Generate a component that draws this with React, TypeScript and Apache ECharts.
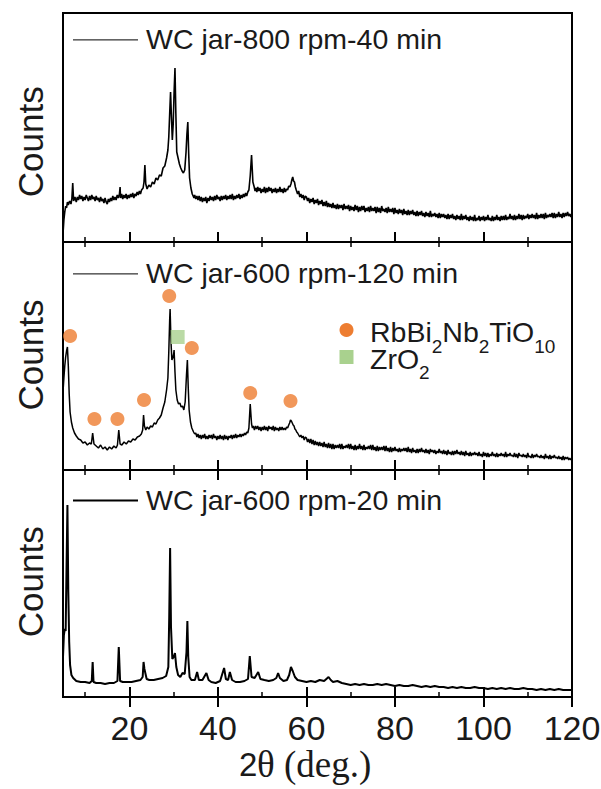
import React, { useEffect, useRef } from 'react';
import * as echarts from 'echarts';

const SANS = '"Liberation Sans", Arial, Helvetica, sans-serif';
const SERIF = '"Liberation Serif", "Times New Roman", serif';
const INK = '#1a1a1a';

// ---- axis / labels ----
const X_MIN = 5;
const X_MAX = 120;
const X_MAJOR_TICKS = [20, 40, 60, 80, 100, 120];
const X_MINOR_TICKS = [10, 30, 50, 70, 90, 110];
const PANEL_Y_MAX = [229, 228, 227];
const Y_TITLE = 'Counts';
const X_TITLE_A = '2';
const X_TITLE_B = 'θ (deg.)';
const SERIES_NAMES = ['WC jar-800 rpm-40 min', 'WC jar-600 rpm-120 min', 'WC jar-600 rpm-20 min'];
const PHASE_RBBI: [string, boolean][] = [['RbBi', false], ['2', true], ['Nb', false], ['2', true], ['TiO', false], ['10', true]];
const PHASE_ZRO2: [string, boolean][] = [['ZrO', false], ['2', true]];

// ---- data: [2theta, counts (a.u.)] ----
const TOP_800_40: number[][] = [
  [5.0,8],[5.2,22],[5.4,30],[5.6,36],[5.8,34],[6.0,40],[6.2,37],[6.5,41],[6.8,38],[7.0,43],[7.2,59],[7.4,41],[7.7,45],
  [8.0,40],[8.25,45],[8.5,42],[8.75,47],[9,43],[9.25,46],[9.5,41],[9.75,45],[10,42],[10.25,47],[10.5,44],[10.75,41],[11,46],[11.25,42],[11.5,47],[11.75,43],[12,45],[12.25,41],[12.5,46],[12.75,42],[13,44],[13.25,40],[13.5,45],[13.75,41],[14,43],[14.25,39],[14.5,44],[14.75,40],[15,38],[15.25,43],[15.5,40],[15.75,44],[16,41],[16.25,46],[16.5,42],[16.75,45],[17,42],[17.25,47],[17.5,44],[17.75,48],[17.9,55],[18.0,44],[18.25,48],[18.5,43],[18.75,47],[19,44],[19.25,48],[19.5,43],[19.75,47],[20,44],[20.25,48],[20.5,45],[20.75,49],[21,44],[21.25,48],[21.5,46],[21.75,50],[22,47],[22.25,51],[22.5,48],[22.75,52],
  [23.1,54],[23.3,60],[23.5,77],[23.7,58],[24.0,53],[24.4,57],[24.8,55],[25.2,60],[25.6,58],[26.0,64],[26.4,62],[26.8,67],[27.2,66],[27.6,74],[28.0,76],[28.4,84],[28.7,92],[28.9,105],[29.1,128],[29.3,150],[29.5,125],[29.7,102],[29.9,118],[30.1,150],[30.3,174],[30.5,128],[30.7,90],[31.0,84],[31.3,78],[31.6,74],[31.9,71],[32.2,69],[32.5,72],[32.8,90],[33.0,108],[33.2,120],[33.4,88],[33.6,64],[33.9,54],[34.2,48],[34.6,44],
  [34.75,47],[35,43],[35.25,46],[35.5,42],[35.75,46],[36,41],[36.25,45],[36.5,40],[36.75,44],[37,41],[37.25,45],[37.5,39],[37.75,44],[38,41],[38.25,46],[38.5,42],[38.75,45],[39,41],[39.25,46],[39.5,42],[39.75,47],[40,43],[40.25,45],[40.5,41],[40.75,46],[41,42],[41.25,46],[41.5,43],[41.75,47],[42,42],[42.25,46],[42.5,43],[42.75,47],[43,43],[43.25,48],[43.5,42],[43.75,46],[44,43],[44.25,47],[44.5,44],[44.75,48],[45,43],[45.25,47],[45.5,44],[45.75,48],[46,45],[46.25,49],[46.5,46],[46.75,50],
  [47.0,52],[47.3,66],[47.6,87],[47.9,60],[48.2,55],[48.4,51],[48.6,54],[48.8,50],[49,55],[49.25,51],[49.5,54],[49.75,49],[50,53],[50.25,50],[50.5,55],[50.75,49],[51,54],[51.25,50],[51.5,55],[51.75,51],[52,54],[52.25,49],[52.5,53],[52.75,50],[53,54],[53.25,49],[53.5,53],[53.75,50],[54,55],[54.25,50],[54.5,53],[54.75,49],[55,54],[55.25,50],[55.5,53],[55.75,52],[56,56],[56.25,55],[56.5,58],[56.7,62],[56.9,65],[57.1,61],[57.3,60],[57.5,55],[57.7,52],[58,48],[58.25,51],[58.5,45],[58.75,48],[59,44],[59.25,47],[59.5,42],[59.75,46],
  [60,45],[60.25,41],[60.5,44],[60.75,39],[61,43],[61.25,40],[61.5,44],[61.75,38],[62,42],[62.25,39],[62.5,43],[62.75,37],[63,41],[63.25,38],[63.5,42],[63.75,36],[64,40],[64.25,36],[64.5,41],[64.75,35],[65,39],[65.25,35],[65.5,38],[65.75,34],[66,39],[66.25,34],[66.5,37],[66.75,33],[67,38],[67.25,33],[67.5,37],[67.75,34],[68,37],[68.25,32],[68.5,38],[68.75,33],[69,36],[69.25,33],[69.5,37],[69.75,31],[70,36],[70.25,32],[70.5,35],[70.75,31],[71,37],[71.25,32],[71.5,36],[71.75,30],[72,35],[72.25,31],[72.5,36],[72.75,32],[73,36],[73.25,30],[73.5,34],[73.75,31],[74,35],[74.25,30],[74.5,36],[74.75,31],[75,34],[75.25,31],[75.5,35],[75.75,29],[76,35],[76.25,30],[76.5,34],[76.75,29],[77,36],[77.25,31],[77.5,33],[77.75,30],[78,34],[78.25,29],[78.5,35],[78.75,30],[79,33],[79.25,30],[79.5,34],[79.75,28],[80,34],[80.25,29],[80.5,32],[80.75,28],[81,33],[81.25,29],[81.5,32],[81.75,27],[82,33],[82.25,28],[82.5,31],[82.75,27],[83,32],[83.25,27],[83.5,31],[83.75,28],[84,32],[84.25,27],[84.5,30],[84.75,26],[85,31],[85.25,26],[85.5,30],[85.75,27],[86,31],[86.25,26],[86.5,29],[86.75,25],[87,30],[87.25,26],[87.5,29],[87.75,25],[88,31],[88.25,25],[88.5,28],[88.75,26],[89,29],[89.25,25],[89.5,28],[89.75,24],[90,29],[90.25,24],[90.5,28],[90.75,25],[91,28],[91.25,24],[91.5,27],[91.75,23],[92,28],[92.25,23],[92.5,27],[92.75,24],[93,28],[93.25,23],[93.5,26],[93.75,22],[94,27],[94.25,23],[94.5,26],[94.75,22],[95,28],[95.25,22],[95.5,26],[95.75,23],[96,27],[96.25,22],[96.5,25],[96.75,21],[97,26],[97.25,22],[97.5,25],[97.75,21],[98,27],[98.25,21],[98.5,24],[98.75,22],[99,26],[99.25,21],[99.5,25],[99.75,22],[100,26],[100.25,21],[100.5,25],[100.75,22],[101,27],[101.25,22],[101.5,24],[101.75,21],[102,26],[102.25,21],[102.5,25],[102.75,22],[103,27],[103.25,22],[103.5,25],[103.75,21],[104,26],[104.25,22],[104.5,26],[104.75,22],[105,27],[105.25,22],[105.5,25],[105.75,23],[106,28],[106.25,23],[106.5,26],[106.75,22],[107,27],[107.25,22],[107.5,26],[107.75,23],[108,28],[108.25,23],[108.5,27],[108.75,22],[109,27],[109.25,23],[109.5,26],[109.75,24],[110,28],[110.25,23],[110.5,27],[110.75,24],[111,28],[111.25,24],[111.5,27],[111.75,23],[112,29],[112.25,23],[112.5,27],[112.75,24],[113,28],[113.25,24],[113.5,28],[113.75,23],[114,29],[114.25,24],[114.5,27],[114.75,25],[115,28],[115.25,25],[115.5,29],[115.75,24],[116,29],[116.25,24],[116.5,28],[116.75,25],[117,30],[117.25,25],[117.5,28],[117.75,24],[118,29],[118.25,25],[118.5,29],[118.75,26],[119,30],[119.25,26],[119.5,28],[119.75,25],[120,29]
];

const MID_600_120: number[][] = [
  [5.0,78],[5.2,92],[5.4,104],[5.6,113],[5.8,119],[6.0,123],[6.2,104],[6.4,76],[6.6,58],[6.9,48],[7.2,42],[7.6,37],[8.0,34],[8.5,31],[9.0,30],[9.5,27],[10.0,28],[10.5,25],[11.0,27],[11.4,26],[11.7,37],[12.0,26],[12.5,24],[13.0,22],[13.5,25],[14.0,21],[14.5,23],[15.0,20],[15.5,23],[16.0,21],[16.5,24],[17.0,22],[17.3,25],[17.6,40],[17.9,26],[18.3,25],[18.8,28],[19.3,26],[19.8,29],[20.3,28],[20.8,31],[21.3,30],[21.8,33],[22.3,34],[22.7,36],[23.0,40],[23.2,55],[23.4,44],[23.7,40],[24.0,43],[24.4,41],[24.8,44],[25.2,43],[25.6,47],[26.0,46],[26.4,50],[26.8,52],[27.2,55],[27.6,62],[28.0,68],[28.4,80],[28.7,92],[28.9,118],[29.1,150],[29.2,161],[29.4,128],[29.6,110],[29.8,112],[30.0,116],[30.1,120],[30.3,98],[30.5,80],[30.8,70],[31.1,66],[31.4,67],[31.7,63],[32.0,64],[32.3,60],[32.6,68],[32.9,95],[33.1,110],[33.3,82],[33.5,60],[33.8,48],[34.1,42],
  [34.5,38],[34.75,36],[35,37],[35.25,33],[35.5,36],[35.75,32],[36,35],[36.25,31],[36.5,35],[36.75,32],[37,36],[37.25,31],[37.5,34],[37.75,31],[38,35],[38.25,32],[38.5,35],[38.75,31],[39,36],[39.25,32],[39.5,34],[39.75,30],[40,34],[40.25,31],[40.5,35],[40.75,31],[41,34],[41.25,30],[41.5,35],[41.75,31],[42,34],[42.25,30],[42.5,34],[42.75,32],[43,35],[43.25,31],[43.5,35],[43.75,32],[44,36],[44.25,32],[44.5,35],[44.75,33],[45,36],[45.25,33],[45.5,36],[45.75,34],[46,37],[46.25,35],[46.5,38],[46.75,37],
  [47.0,42],[47.3,66],[47.6,46],[47.8,42],[48,44],[48.25,40],[48.5,44],[48.75,41],[49,44],[49.25,40],[49.5,43],[49.75,39],[50,43],[50.25,40],[50.5,44],[50.75,40],[51,43],[51.25,39],[51.5,44],[51.75,41],[52,43],[52.25,40],[52.5,44],[52.75,39],[53,43],[53.25,40],[53.5,42],[53.75,39],[54,43],[54.25,40],[54.5,43],[54.75,40],[55,42],[55.25,40],[55.5,43],[55.75,42],[56,45],[56.2,47],[56.4,50],[56.6,49],[56.8,47],[57,45],[57.2,44],[57.4,41],[57.6,40],[57.8,38],[58,37],[58.25,35],[58.5,33],[58.75,35],[59,32],[59.25,34],[59.5,30],[59.75,33],
  [60,32],[60.25,28],[60.5,31],[60.75,27],[61,31],[61.25,26],[61.5,30],[61.75,25],[62,29],[62.25,25],[62.5,28],[62.75,24],[63,28],[63.25,24],[63.5,27],[63.75,23],[64,28],[64.25,23],[64.5,26],[64.75,22],[65,27],[65.25,22],[65.5,26],[65.75,21],[66,26],[66.25,21],[66.5,25],[66.75,22],[67,25],[67.25,22],[67.5,26],[67.75,21],[68,26],[68.25,21],[68.5,24],[68.75,22],[69,25],[69.25,22],[69.5,26],[69.75,21],[70,26],[70.25,21],[70.5,24],[70.75,20],[71,25],[71.25,20],[71.5,24],[71.75,21],[72,26],[72.25,21],[72.5,24],[72.75,20],[73,25],[73.25,20],[73.5,23],[73.75,21],[74,24],[74.25,21],[74.5,25],[74.75,20],[75,25],[75.25,20],[75.5,23],[75.75,19],[76,24],[76.25,19],[76.5,23],[76.75,20],[77,23],[77.25,20],[77.5,24],[77.75,19],[78,24],[78.25,19],[78.5,22],[78.75,18],[79,23],[79.25,18],[79.5,22],[79.75,19],[80,23],[80.25,19],[80.5,21],[80.75,18],[81,22],[81.25,18],[81.5,21],[81.75,19],[82,22],[82.25,19],[82.5,22],[82.75,18],[83,23],[83.25,18],[83.5,21],[83.75,17],[84,22],[84.25,18],[84.5,20],[84.75,17],[85,21],[85.25,17],[85.5,21],[85.75,18],[86,22],[86.25,18],[86.5,20],[86.75,17],[87,21],[87.25,17],[87.5,20],[87.75,16],[88,21],[88.25,18],[88.5,20],[88.75,17],[89,20],[89.25,16],[89.5,19],[89.75,17],[90,21],[90.25,17],[90.5,19],[90.75,16],[91,20],[91.25,16],[91.5,19],[91.75,15],[92,20],[92.25,16],[92.5,18],[92.75,15],[93,19],[93.25,15],[93.5,19],[93.75,16],[94,20],[94.25,16],[94.5,18],[94.75,15],[95,19],[95.25,15],[95.5,18],[95.75,14],[96,19],[96.25,15],[96.5,17],[96.75,14],[97,18],[97.25,14],[97.5,17],[97.75,15],[98,18],[98.25,15],[98.5,17],[98.75,14],[99,18],[99.25,14],[99.5,16],[99.75,13],[100,18],[100.25,14],[100.5,17],[100.75,13],[101,17],[101.25,13],[101.5,16],[101.75,14],[102,18],[102.25,14],[102.5,16],[102.75,13],[103,17],[103.25,13],[103.5,16],[103.75,14],[104,17],[104.25,14],[104.5,16],[104.75,13],[105,18],[105.25,13],[105.5,16],[105.75,14],[106,17],[106.25,14],[106.5,15],[106.75,13],[107,17],[107.25,13],[107.5,16],[107.75,12],[108,17],[108.25,14],[108.5,15],[108.75,13],[109,16],[109.25,13],[109.5,15],[109.75,12],[110,17],[110.25,13],[110.5,14],[110.75,12],[111,16],[111.25,12],[111.5,15],[111.75,13],[112,16],[112.25,13],[112.5,14],[112.75,12],[113,15],[113.25,12],[113.5,14],[113.75,11],[114,16],[114.25,12],[114.5,14],[114.75,11],[115,15],[115.25,11],[115.5,14],[115.75,12],[116,15],[116.25,12],[116.5,13],[116.75,11],[117,14],[117.25,11],[117.5,13],[117.75,10],[118,14],[118.25,10],[118.5,13],[118.75,11],[119,13],[119.25,10],[119.5,12],[119.75,10],[120,12]
];

const BOT_600_20: number[][] = [
  [5.0,40],[5.2,62],[5.4,68],[5.6,66],[5.8,130],[6.0,192],[6.2,105],[6.4,55],[6.6,32],[6.9,22],[7.3,19],[8.0,16],[9.0,15],[10.0,15],[11.0,14],[11.5,16],[11.7,35],[11.9,15],[12.5,14],[13.5,14],[14.5,13],[15.5,14],[16.5,14],[17.3,16],[17.6,50],[17.9,16],[18.5,15],[19.5,15],[20.5,15],[21.5,16],[22.5,17],[23.0,20],[23.2,35],[23.4,28],[23.6,24],[23.9,18],[24.5,17],[25.5,17],[26.5,18],[27.5,19],[28.3,21],[28.8,30],[29.0,80],[29.2,149],[29.4,70],[29.7,38],[30.0,40],[30.3,44],[30.6,30],[31.0,22],[31.5,20],[32.0,24],[32.5,23],[32.9,45],[33.1,76],[33.3,40],[33.6,20],[34.0,17],[34.8,17],[35.3,25],[35.7,17],[36.5,17],[37.4,24],[37.9,17],[38.5,15],[39.5,14],[40.5,16],[41.4,29],[41.8,18],[42.3,17],[42.7,25],[43.2,17],[44.0,15],[45.0,15],[46.0,16],[46.8,18],[47.2,41],[47.6,20],[48.3,19],[49.1,25],[49.6,18],[50.5,17],[51.5,16],[52.5,17],[53.2,19],[53.6,24],[54.0,19],[54.8,16],[55.6,17],[56.1,22],[56.5,30],[56.9,26],[57.4,20],[58.0,17],[59.0,16],[60.0,15],
  [61,16],[62,15],[63,17],[64,16],[65,20],[65.5,17],[66,15],[67,16],[68,14],[69,13],[70,12],[71,13],[72,12],[73,13],[74,12],[75,12],[76,13],[77,12],[78,13],[79,12],[80,11],[81,12],[82,11],[83,11],[84,12],[85,11],[86,10],[87,11],[88,10],[89,11],[90,10],[91,10],[92,9],[93,10],[94,9],[95,10],[96,9],[97,9],[98,10],[99,9],[100,9],[101,8],[102,9],[103,8],[104,9],[105,8],[106,9],[107,8],[108,8],[109,9],[110,8],[111,8],[112,7],[113,8],[114,7],[115,8],[116,7],[117,8],[118,7],[119,7],[120,7]
];

const RBBI_PEAKS: number[][] = [[6.6,134],[12.1,51],[17.3,51],[23.3,70],[29.0,174],[34.1,122],[47.3,77],[56.4,69]];
const ZRO2_PEAKS: number[][] = [[30.9,133]];

// ---- layout ----
const PLOT_LEFT = 63;
const PLOT_WIDTH = 509;
const PANELS = [
  { top: 13, height: 229 },
  { top: 242, height: 228 },
  { top: 470, height: 227 },
];

function measureWidth(text: string, size: number, family: string): number {
  const ctx = document.createElement('canvas').getContext('2d');
  if (!ctx) return text.length * size * 0.55;
  ctx.font = `${size}px ${family}`;
  return ctx.measureText(text).width;
}

function textEl(text: string, x: number, y: number, size: number, family: string, align: string, extra: any = {}, lineHeight?: number) {
  const style: any = {
    text,
    fontSize: size,
    fontFamily: family,
    fill: INK,
    align,
    verticalAlign: 'middle',
    textAlign: align,
    textVerticalAlign: 'middle',
  };
  if (lineHeight) style.lineHeight = lineHeight;
  return { type: 'text', x, y, ...extra, style };
}

function formula(parts: [string, boolean][], x0: number, baseline: number, main: number, sub: number, drop: number) {
  const out: any[] = [];
  let x = x0;
  for (const [t, isSub] of parts) {
    const size = isSub ? sub : main;
    const bl = isSub ? baseline + drop : baseline;
    out.push(textEl(t, x, bl - 0.3465 * size, size, SANS, 'left', {}, Math.round(size * 0.8)));
    x += measureWidth(t, size, SANS);
  }
  return out;
}

function tickAxis(gridIndex: number, position: string, values: number[], len: number, width: number, labels: boolean) {
  return {
    type: 'value',
    gridIndex,
    position,
    min: X_MIN,
    max: X_MAX,
    axisLine: { show: false },
    splitLine: { show: false },
    axisTick: { show: true, inside: true, length: len, customValues: values, lineStyle: { color: '#000', width } },
    axisLabel: labels
      ? { show: true, customValues: values, fontSize: 34, fontFamily: SANS, color: INK, margin: 14 }
      : { show: false },
  };
}

export default function App() {
  const ref = useRef<HTMLDivElement>(null);
  useEffect(() => {
    document.body.style.margin = '0';
    if (!ref.current) return;
    const chart = echarts.init(ref.current, undefined, { renderer: 'svg' });

    const xAxes: any[] = [];
    xAxes.push(tickAxis(0, 'bottom', X_MAJOR_TICKS, 10, 2, false)); // 0
    xAxes.push(tickAxis(0, 'bottom', X_MINOR_TICKS, 5, 1.5, false)); // 1
    xAxes.push(tickAxis(1, 'top', X_MAJOR_TICKS, 10, 2, false)); // 2
    xAxes.push(tickAxis(1, 'top', X_MINOR_TICKS, 5, 1.5, false)); // 3
    xAxes.push(tickAxis(1, 'bottom', X_MAJOR_TICKS, 10, 2, false)); // 4
    xAxes.push(tickAxis(1, 'bottom', X_MINOR_TICKS, 5, 1.5, false)); // 5
    xAxes.push(tickAxis(2, 'top', X_MAJOR_TICKS, 10, 2, false)); // 6
    xAxes.push(tickAxis(2, 'top', X_MINOR_TICKS, 5, 1.5, false)); // 7
    xAxes.push(tickAxis(2, 'bottom', X_MAJOR_TICKS, 10, 2, true)); // 8
    xAxes.push(tickAxis(2, 'bottom', X_MINOR_TICKS, 5, 1.5, false)); // 9

    const legendY = [39.4, 273.4, 500];
    const countsY = [141.7, 355, 581.7];
    const graphics: any[] = [];
    for (let i = 0; i < 3; i++) {
      graphics.push(textEl(Y_TITLE, 30, countsY[i], 35, SANS, 'center', { rotation: Math.PI / 2 }));
      graphics.push({
        type: 'line',
        shape: { x1: 73, y1: legendY[i] + 0.5, x2: 138, y2: legendY[i] + 0.5 },
        style: { stroke: '#000', lineWidth: i === 2 ? 2 : 1 },
      });
      graphics.push(textEl(SERIES_NAMES[i], 146, legendY[i], 28.5, SANS, 'left'));
    }
    graphics.push({ type: 'circle', shape: { cx: 346.5, cy: 330, r: 7 }, style: { fill: '#ED7D31' } });
    graphics.push({ type: 'rect', shape: { x: 339.5, y: 350, width: 14, height: 14 }, style: { fill: '#A9D18E' } });
    graphics.push(...formula(PHASE_RBBI, 370, 342.3, 28.5, 19, 11));
    graphics.push(...formula(PHASE_ZRO2, 370, 368.5, 28.5, 19, 11));
    graphics.push(textEl(X_TITLE_A, 239, 764, 33, SANS, 'left'));
    graphics.push(textEl(X_TITLE_B, 257, 764, 37, SERIF, 'left'));

    chart.setOption({
      animation: false,
      backgroundColor: '#fff',
      grid: PANELS.map((p) => ({
        left: PLOT_LEFT,
        width: PLOT_WIDTH,
        top: p.top,
        height: p.height,
        show: true,
        borderColor: '#000',
        borderWidth: 2,
        backgroundColor: 'transparent',
        containLabel: false,
        outerBoundsMode: 'none',
      })),
      xAxis: xAxes,
      yAxis: PANEL_Y_MAX.map((m, i) => ({ type: 'value', gridIndex: i, min: 0, max: m, show: false })),
      series: [
        { type: 'line', name: SERIES_NAMES[0], xAxisIndex: 0, yAxisIndex: 0, data: TOP_800_40, showSymbol: false, symbol: 'none', silent: true, lineStyle: { color: '#000', width: 1.6 }, z: 2 },
        { type: 'line', name: SERIES_NAMES[1], xAxisIndex: 4, yAxisIndex: 1, data: MID_600_120, showSymbol: false, symbol: 'none', silent: true, lineStyle: { color: '#000', width: 1.5 }, z: 2 },
        { type: 'line', name: SERIES_NAMES[2], xAxisIndex: 8, yAxisIndex: 2, data: BOT_600_20, showSymbol: false, symbol: 'none', silent: true, lineStyle: { color: '#000', width: 2 }, z: 2 },
        { type: 'scatter', name: 'RbBi2Nb2TiO10', xAxisIndex: 4, yAxisIndex: 1, data: RBBI_PEAKS, symbol: 'circle', symbolSize: 14, itemStyle: { color: '#ED7D31' }, silent: true, z: 3 },
        { type: 'scatter', name: 'ZrO2', xAxisIndex: 4, yAxisIndex: 1, data: ZRO2_PEAKS, symbol: 'rect', symbolSize: 14, itemStyle: { color: '#A9D18E' }, silent: true, z: 3 },
      ],
      graphic: graphics,
    });
    return () => chart.dispose();
  }, []);
  return <div ref={ref} style={{ width: 601, height: 789 }} />;
}
